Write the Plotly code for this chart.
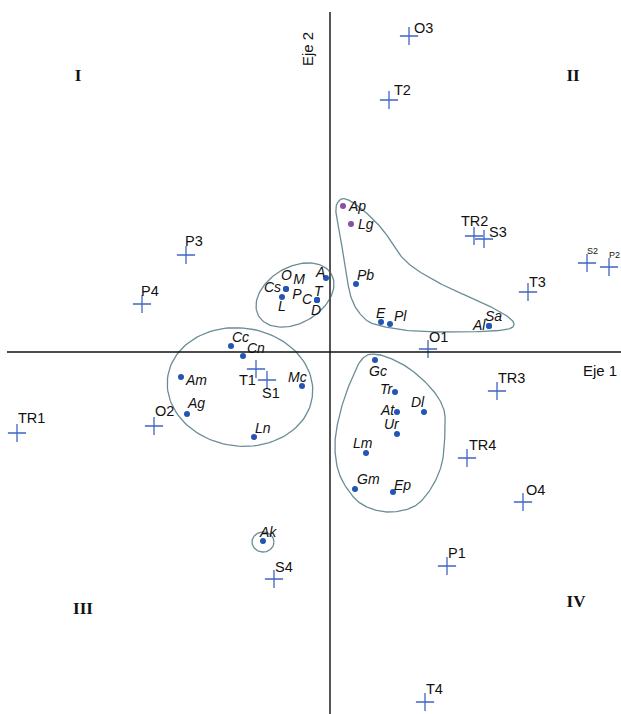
import numpy as np
import plotly.graph_objects as go

# ---------------- data ----------------
# sites / seasons (crosses)
site_labels = ["O3", "T2", "TR2", "S3", "T3", "P3", "P4", "O1", "TR3", "TR4", "O4",
               "TR1", "O2", "T1", "S1", "P1", "S4", "T4"]
site_x = [0.79, 0.59, 1.44, 1.54, 1.98, -1.44, -1.88, 0.98, 1.67, 1.37, 1.93,
          -3.13, -1.76, -0.74, -0.63, 1.17, -0.56, 0.95]
site_y = [3.16, 2.52, 1.16, 1.13, 0.60, 0.97, 0.48, 0.03, -0.39, -1.06, -1.50,
          -0.81, -0.74, -0.17, -0.28, -2.14, -2.27, -3.50]

small_site_labels = ["S2", "P2"]
small_site_x = [2.57, 2.79]
small_site_y = [0.89, 0.85]

# species (dots)
sp_labels = ["Pb", "E", "Pl", "Al", "Sa", "A", "Cs", "O", "L", "T", "C", "D",
             "Cc", "Cn", "Am", "Mc", "Ag", "Ln", "Gc", "Tr", "At", "Dl", "Ur",
             "Lm", "Gm", "Ep", "Ak"]
sp_x = [0.26, 0.51, 0.60, 1.59, 1.59, -0.04, -0.44, -0.44, -0.48, -0.13, -0.13, -0.13,
        -0.99, -0.87, -1.49, -0.28, -1.43, -0.76, 0.45, 0.65, 0.67, 0.94, 0.67,
        0.36, 0.25, 0.63, -0.67]
sp_y = [0.68, 0.30, 0.28, 0.26, 0.26, 0.74, 0.63, 0.63, 0.55, 0.52, 0.52, 0.52,
        0.06, -0.04, -0.25, -0.34, -0.62, -0.85, -0.08, -0.40, -0.60, -0.60, -0.82,
        -1.01, -1.37, -1.40, -1.89]

sp2_labels = ["Ap", "Lg"]
sp2_x = [0.13, 0.21]
sp2_y = [1.46, 1.28]

lab_only = ["M", "P"]
lab_only_x = [-0.31, -0.33]
lab_only_y = [0.72, 0.57]

quad_labels = ["I", "II", "III", "IV"]
quad_x = [-2.52, 2.43, -2.47, 2.46]
quad_y = [2.75, 2.75, -2.58, -2.51]

# group outlines (control points)
blob1_x = [0.08, 0.16, 0.33, 0.53, 0.70, 0.87, 1.17, 1.53, 1.77, 1.84, 1.73, 1.33,
           0.83, 0.47, 0.33, 0.22, 0.16, 0.11, 0.06]
blob1_y = [1.50, 1.53, 1.42, 1.22, 0.97, 0.82, 0.65, 0.49, 0.36, 0.27, 0.22, 0.20,
           0.21, 0.27, 0.35, 0.52, 0.79, 1.12, 1.39]
blob2_x = [0.33, 0.50, 0.77, 1.00, 1.13, 1.15, 1.12, 1.00, 0.83, 0.57, 0.33, 0.18,
           0.08, 0.05, 0.10, 0.20]
blob2_y = [-0.06, -0.03, -0.15, -0.35, -0.55, -0.75, -1.11, -1.38, -1.55, -1.60,
           -1.53, -1.38, -1.18, -0.91, -0.61, -0.31]
# ellipses: cx, cy, a, b, angle(deg)
ellipses = [(-0.35, 0.57, 0.42, 0.28, 30), (-0.90, -0.35, 0.73, 0.59, -8),
            (-0.67, -1.90, 0.11, 0.10, 0)]

# ---------------- styles ----------------
# label offsets in screen pixels (dx right, dy down) for each label
site_off = [(14, -8), (13, -10), (0, -15), (14, -7), (9, -10), (8, -14), (8, -13),
            (10, -12), (14, -13), (15, -13), (12, -12), (14, -15), (10, -15),
            (-9, 11), (4, 13), (10, -13), (10, -12), (9, -13)]
small_site_off = [(5, -12), (5, -12)]
sp_off = [(9, -9), (0, -9), (10, -8), (-10, -1), (4, -10), (-6, -6), (-14, -2),
          (0, -14), (0, 9), (2, -9), (-10, -1), (-1, 10),
          (9, -9), (13, -8), (15, 3), (-5, -9), (9, -11), (9, -9), (3, 11),
          (-8, -3), (-10, -2), (-6, -10), (-5, -10), (-3, -10), (13, -10), (9, -7),
          (5, -9)]
sp2_off = [(14, 0), (15, 0)]

X_RANGE = [-3.30, 2.91]
Y_RANGE = [-3.62, 3.52]

# ---------------- helpers ----------------
def closed_spline(xs, ys, n=20):
    xs = np.asarray(xs); ys = np.asarray(ys)
    m = len(xs)
    ox, oy = [], []
    for i in range(m):
        p0 = np.array([xs[(i - 1) % m], ys[(i - 1) % m]])
        p1 = np.array([xs[i], ys[i]])
        p2 = np.array([xs[(i + 1) % m], ys[(i + 1) % m]])
        p3 = np.array([xs[(i + 2) % m], ys[(i + 2) % m]])
        for t in np.linspace(0, 1, n, endpoint=False):
            t2, t3 = t * t, t * t * t
            p = 0.5 * ((2 * p1) + (-p0 + p2) * t + (2 * p0 - 5 * p1 + 4 * p2 - p3) * t2
                       + (-p0 + 3 * p1 - 3 * p2 + p3) * t3)
            ox.append(p[0]); oy.append(p[1])
    ox.append(ox[0]); oy.append(oy[0])
    return ox, oy

def ellipse(cx, cy, a, b, ang, n=120):
    t = np.linspace(0, 2 * np.pi, n)
    th = np.deg2rad(ang)
    x = cx + a * np.cos(t) * np.cos(th) - b * np.sin(t) * np.sin(th)
    y = cy + a * np.cos(t) * np.sin(th) + b * np.sin(t) * np.cos(th)
    return x, y

OUTLINE = "#6b8c97"
CROSS = "#3f66c4"
DOT = "#2356b3"
PURPLE = "#8a4ea6"
SANS = "Liberation Sans, Arial, sans-serif"

fig = go.Figure()

# outlines
for bx, by in [(blob1_x, blob1_y), (blob2_x, blob2_y)]:
    sx, sy = closed_spline(bx, by)
    fig.add_trace(go.Scatter(x=sx, y=sy, mode="lines", line=dict(color=OUTLINE, width=1.3),
                             hoverinfo="skip", showlegend=False))
for (cx, cy, a, b, ang) in ellipses:
    ex, ey = ellipse(cx, cy, a, b, ang)
    fig.add_trace(go.Scatter(x=ex, y=ey, mode="lines", line=dict(color=OUTLINE, width=1.3),
                             hoverinfo="skip", showlegend=False))

# axes lines
fig.add_shape(type="line", x0=0, x1=0, y0=3.40, y1=Y_RANGE[0],
              line=dict(color="#555555", width=2))
fig.add_shape(type="line", x0=-3.23, x1=X_RANGE[1], y0=0, y1=0,
              line=dict(color="#111111", width=1.4))

# sites
cross_marker = dict(symbol="cross-thin", size=13, line=dict(color=CROSS, width=1.3), color=CROSS)
fig.add_trace(go.Scatter(x=site_x + small_site_x, y=site_y + small_site_y, mode="markers",
                         marker=cross_marker, showlegend=False))

# species
fig.add_trace(go.Scatter(x=sp_x, y=sp_y, mode="markers",
                         marker=dict(symbol="circle", size=6, color=DOT), showlegend=False))
fig.add_trace(go.Scatter(x=sp2_x, y=sp2_y, mode="markers",
                         marker=dict(symbol="circle", size=6, color=PURPLE), showlegend=False))
fig.add_trace(go.Scatter(
    x=lab_only_x, y=lab_only_y, text=lab_only, mode="text",
    textfont=dict(family=SANS, size=14, color="#111111", style="italic"), showlegend=False))

def add_labels(labels, xs, ys, offs, size, italic):
    for lab, x, y, (dx, dy) in zip(labels, xs, ys, offs):
        fig.add_annotation(x=x, y=y, text=lab, showarrow=False, xshift=dx, yshift=-dy,
                           xanchor="center", yanchor="middle",
                           font=dict(family=SANS, size=size, color="#111111",
                                     style="italic" if italic else "normal"))

add_labels(site_labels, site_x, site_y, site_off, 14.5, False)
add_labels(small_site_labels, small_site_x, small_site_y, small_site_off, 9, False)
add_labels(sp_labels, sp_x, sp_y, sp_off, 14, True)
add_labels(sp2_labels, sp2_x, sp2_y, sp2_off, 14, True)

# quadrant numerals
fig.add_trace(go.Scatter(
    x=quad_x, y=quad_y, text=quad_labels, mode="text",
    textfont=dict(family="Liberation Serif, Times New Roman, serif", size=17,
                  color="#111111", weight="bold"), showlegend=False))

# axis titles
fig.add_annotation(x=2.70, y=-0.18, text="Eje 1", showarrow=False,
                   font=dict(family=SANS, size=15, color="#111111"))
fig.add_annotation(x=-0.23, y=3.03, text="Eje 2", showarrow=False, textangle=-90,
                   font=dict(family=SANS, size=15, color="#111111"))

fig.update_layout(
    width=621, height=714, autosize=False,
    margin=dict(l=0, r=0, t=0, b=0),
    paper_bgcolor="white", plot_bgcolor="white",
    xaxis=dict(range=X_RANGE, visible=False, showgrid=False, zeroline=False, fixedrange=True),
    yaxis=dict(range=Y_RANGE, visible=False, showgrid=False, zeroline=False, fixedrange=True),
    showlegend=False,
    hovermode=False,
)

fig.write_html("out.html", config={"displayModeBar": False, "staticPlot": True},
               post_script="document.body.style.margin='0';document.body.style.overflow='hidden';")
